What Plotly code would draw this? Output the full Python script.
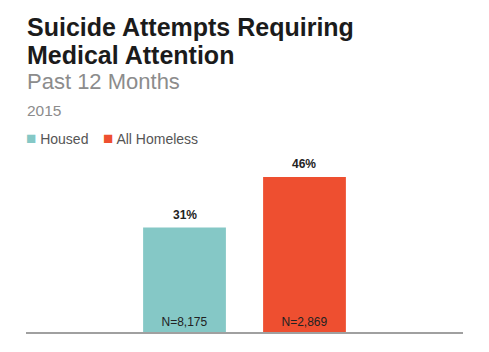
import plotly.graph_objects as go

categories = ["Housed", "All Homeless"]
values = [31, 46]
n_labels = ["N=8,175", "N=2,869"]
colors = ["#85C8C6", "#EE4F30"]
title_lines = ["Suicide Attempts Requiring", "Medical Attention"]
subtitle = "Past 12 Months"
year_label = "2015"

FONT = "Liberation Sans, Arial, sans-serif"

fig = go.Figure()
for cat, val, n, col in zip(categories, values, n_labels, colors):
    fig.add_trace(go.Bar(
        x=[cat], y=[val], name=cat, marker=dict(color=col, line=dict(width=0)),
        width=0.69, text=[n], textposition="inside", insidetextanchor="start",
        textfont=dict(family=FONT, size=12, color="#222"),
        hoverinfo="skip", cliponaxis=False, showlegend=False,
    ))
    fig.add_annotation(x=cat, y=val, text=f"<b>{val}%</b>", showarrow=False,
                       yanchor="bottom", yshift=4,
                       font=dict(family=FONT, size=12, color="#222"))

W, H = 489, 352
ml, mr, mt, mb = 26, 26, 150, 20
pw = W - ml - mr
ph = H - mt - mb

def py(p):
    return (H - mb - p) / ph

def px(p):
    return (p - ml) / pw

for i, line in enumerate(title_lines):
    fig.add_annotation(xref="paper", yref="paper", x=px(25), y=py(26.5 + 28 * i),
                       xanchor="left", yanchor="middle", text=f"<b>{line}</b>",
                       showarrow=False, font=dict(family=FONT, size=25, color="#1b1b1b"))
fig.add_annotation(xref="paper", yref="paper", x=px(25), y=py(81), xanchor="left", yanchor="middle",
                   text=subtitle, showarrow=False,
                   font=dict(family=FONT, size=22, color="#8c8c8c"))
fig.add_annotation(xref="paper", yref="paper", x=px(25), y=py(110.5), xanchor="left", yanchor="middle",
                   text=year_label, showarrow=False,
                   font=dict(family=FONT, size=15.5, color="#8c8c8c"))

# legend built from the series names and colours
legend_x = [24, 101]
for lx, cat, col in zip(legend_x, categories, colors):
    fig.add_annotation(xref="paper", yref="paper", x=px(lx), y=py(138.5), xanchor="left",
                       yanchor="middle", showarrow=False,
                       text=f"<span style='color:{col};font-size:17px'>■</span> {cat}",
                       font=dict(family=FONT, size=14, color="#555"))

fig.update_layout(
    width=W, height=H, margin=dict(l=ml, r=mr, t=mt, b=mb),
    paper_bgcolor="white", plot_bgcolor="white",
    barmode="overlay", showlegend=False,
    xaxis=dict(type="category", categoryorder="array", categoryarray=categories,
               range=[-1.321, 2.321], showticklabels=False, showgrid=False,
               showline=True, linecolor="#a0a0a0", linewidth=1.5, ticks="", zeroline=False),
    yaxis=dict(range=[0, 54], visible=False, showgrid=False, zeroline=False),
)

fig.write_html("out.html")
